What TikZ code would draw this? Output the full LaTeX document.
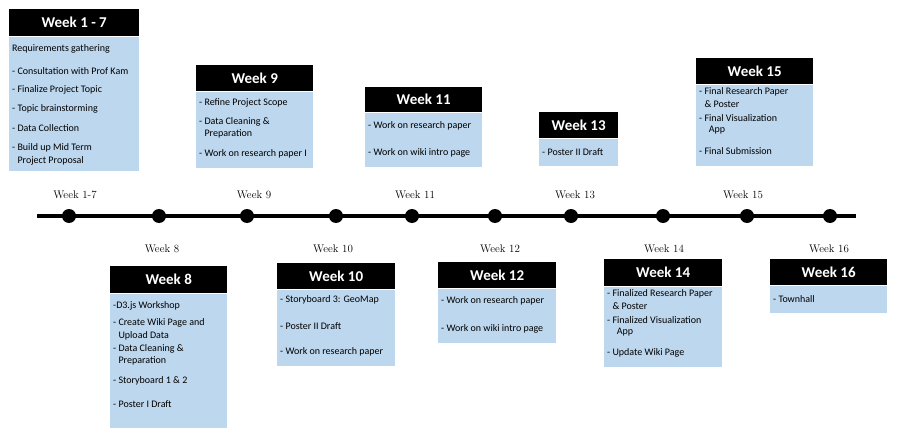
\documentclass[tikz,border=0pt]{standalone}
\usepackage{fontspec}
\newfontfamily\cardfont{Carlito}
\usetikzlibrary{positioning}
\definecolor{cardblue}{RGB}{189,215,238}

\tikzset{
  cardhead/.style={fill=black, text=white, inner sep=0pt,
    font=\cardfont\bfseries\fontsize{15}{17}\selectfont},
  cardbody/.style={fill=cardblue, inner sep=0pt},
  item/.style={anchor=west, inner sep=0pt,
    font=\cardfont\fontsize{10}{12}\selectfont},
  weekdot/.style={circle, fill=black, inner sep=0pt, minimum size=14pt},
  weeklabel/.style={inner sep=0pt, font=\fontsize{11}{13}\selectfont}
}
\newcommand{\gap}{\phantom{- }}

\begin{document}
\begin{tikzpicture}[x=1pt, y=-1pt]
  \useasboundingbox (0,0) rectangle (900,428);

  % timeline
  \coordinate (tl-start) at (37,216);
  \coordinate (tl-end) at (856,216);
  \draw[line width=4pt] (tl-start) -- (tl-end);
  \foreach \xx [count=\i] in {69,159,247,336,412,495,571,663,747,830} {
    \node[weekdot] (d\i) at (\xx,216) {};
  }
  % week labels above / below the line
  \foreach \xx/\txt [count=\i] in {75/Week 1-7, 254/Week 9, 415/Week 11, 575/Week 13, 743/Week 15} {
    \node[weeklabel] (up\i) at (\xx,195) {\txt};
  }
  \foreach \xx/\txt [count=\i] in {162/Week 8, 333/Week 10, 500/Week 12, 664/Week 14, 829/Week 16} {
    \node[weeklabel] (lo\i) at (\xx,249) {\txt};
  }

  % Week 1 - 7
  \node[cardhead, minimum width=130pt, minimum height=27pt, anchor=north west] (h17) at (9,9) {Week 1 - 7};
  \node[cardbody, minimum width=130pt, minimum height=134pt, below=0pt of h17] (b17) {};
  \foreach \yy/\txt [count=\i] in {49/Requirements gathering, 71/- Consultation with Prof Kam,
      90/- Finalize Project Topic, 109/- Topic brainstorming, 128/- Data Collection,
      148/- Build up Mid Term, 161/\gap Project Proposal} {
    \node[item] (t17-\i) at (12,\yy) {\txt};
  }

  % Week 9
  \node[cardhead, minimum width=117pt, minimum height=26pt, anchor=north west] (h9) at (196,65) {Week 9};
  \node[cardbody, minimum width=117pt, minimum height=76pt, below=0pt of h9] (b9) {};
  \foreach \yy/\txt [count=\i] in {103/- Refine Project Scope, 122/- Data Cleaning \&,
      134/\gap Preparation, 154/- Work on research paper I} {
    \node[item] (t9-\i) at (199,\yy) {\txt};
  }

  % Week 11
  \node[cardhead, minimum width=117pt, minimum height=25pt, anchor=north west] (h11) at (365,87) {Week 11};
  \node[cardbody, minimum width=117pt, minimum height=54pt, below=0pt of h11] (b11) {};
  \foreach \yy/\txt [count=\i] in {126/- Work on research paper, 153/- Work on wiki intro page} {
    \node[item] (t11-\i) at (368,\yy) {\txt};
  }

  % Week 13
  \node[cardhead, minimum width=79pt, minimum height=26pt, anchor=north west] (h13) at (539,112) {Week 13};
  \node[cardbody, minimum width=79pt, minimum height=27pt, below=0pt of h13] (b13) {};
  \node[item] (t13-1) at (542,152) {- Poster II Draft};

  % Week 15
  \node[cardhead, minimum width=117pt, minimum height=26pt, anchor=north west] (h15) at (696,58) {Week 15};
  \node[cardbody, minimum width=117pt, minimum height=81pt, below=0pt of h15] (b15) {};
  \foreach \yy/\txt [count=\i] in {92/- Final Research Paper, 104/\gap\& Poster,
      118/- Final Visualization, 130/\gap\phantom{x}App, 151/- Final Submission} {
    \node[item] (t15-\i) at (699,\yy) {\txt};
  }

  % Week 8
  \node[cardhead, minimum width=117pt, minimum height=27pt, anchor=north west] (h8) at (110,266) {Week 8};
  \node[cardbody, minimum width=117pt, minimum height=134pt, below=0pt of h8] (b8) {};
  \foreach \yy/\txt [count=\i] in {306/-D3.js Workshop, 323/- Create Wiki Page and,
      336/\gap Upload Data, 349/- Data Cleaning \&, 361/\gap Preparation,
      381/- Storyboard 1 \& 2, 404/- Poster I Draft} {
    \node[item] (t8-\i) at (113,\yy) {\txt};
  }

  % Week 10
  \node[cardhead, minimum width=118pt, minimum height=26pt, anchor=north west] (h10) at (277,263) {Week 10};
  \node[cardbody, minimum width=118pt, minimum height=76pt, below=0pt of h10] (b10) {};
  \foreach \yy/\txt [count=\i] in {300/- Storyboard 3: GeoMap, 326/- Poster II Draft,
      352/- Work on research paper} {
    \node[item] (t10-\i) at (280,\yy) {\txt};
  }

  % Week 12
  \node[cardhead, minimum width=118pt, minimum height=26pt, anchor=north west] (h12) at (438,262) {Week 12};
  \node[cardbody, minimum width=118pt, minimum height=54pt, below=0pt of h12] (b12) {};
  \foreach \yy/\txt [count=\i] in {301/- Work on research paper, 329/- Work on wiki intro page} {
    \node[item] (t12-\i) at (441,\yy) {\txt};
  }

  % Week 14
  \node[cardhead, minimum width=118pt, minimum height=27pt, anchor=north west] (h14) at (604,259) {Week 14};
  \node[cardbody, minimum width=118pt, minimum height=80pt, below=0pt of h14] (b14) {};
  \foreach \yy/\txt [count=\i] in {294/- Finalized Research Paper, 306/\gap\& Poster,
      320/- Finalized Visualization, 332/\gap\phantom{x}App, 353/- Update Wiki Page} {
    \node[item] (t14-\i) at (607,\yy) {\txt};
  }

  % Week 16
  \node[cardhead, minimum width=117pt, minimum height=26pt, anchor=north west] (h16) at (770,259) {Week 16};
  \node[cardbody, minimum width=117pt, minimum height=27pt, below=0pt of h16] (b16) {};
  \node[item] (t16-1) at (773,299) {- Townhall};
\end{tikzpicture}
\end{document}
